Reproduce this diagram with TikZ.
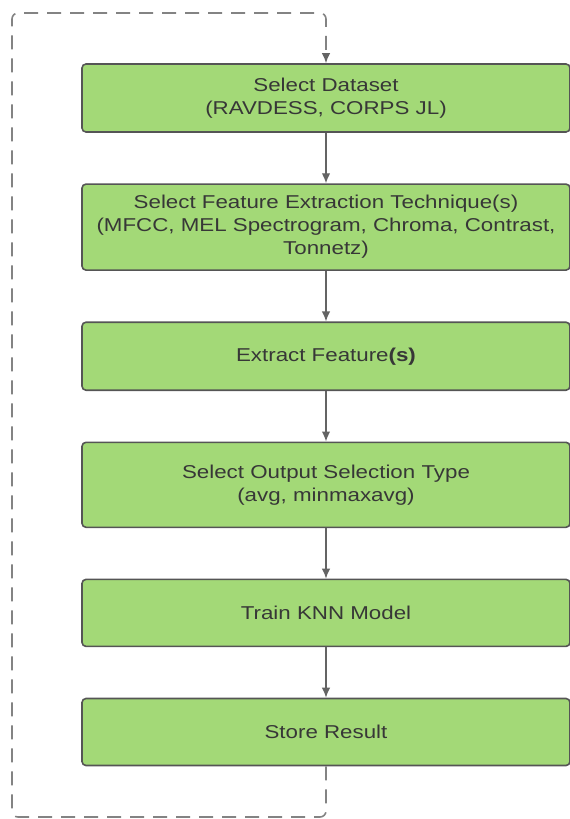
\documentclass[tikz,border=0pt]{standalone}
\usepackage{fontspec}
\setmainfont{Liberation Sans}[FakeStretch=1.2]
\usetikzlibrary{positioning}
\usetikzlibrary{arrows, arrows.meta}
\definecolor{stepgreen}{RGB}{163,217,119}
\definecolor{stepborder}{RGB}{85,85,85}
\definecolor{steptext}{RGB}{55,55,55}
\definecolor{flowgray}{RGB}{100,100,100}
\tikzset{stepbox/.style={draw=stepborder, line width=1.6pt, fill=stepgreen, rounded corners=4pt,
    minimum width=488pt, minimum height=68pt, align=center, text=steptext, inner sep=3pt,
    font=\fontsize{18.6}{23}\selectfont}}
\tikzset{flow/.style={flowgray, line width=1.3pt, -{Latex[length=10pt, width=8.5pt]}}}
\tikzset{loopline/.style={flowgray!80, line width=1.6pt, dash pattern=on 14pt off 9pt,
    rounded corners=6pt, -{Latex[length=10pt, width=8.5pt, fill=flowgray, flowgray]}}}

\begin{document}
\begin{tikzpicture}[x=1pt, y=-1pt]
            \useasboundingbox (0,0) rectangle (570,819);
            \node[stepbox] (dataset) at (326,98) {Select Dataset\\(RAVDESS, CORPS JL)};
            \node[stepbox, minimum height=86pt, below=50.5pt of dataset] (technique) {Select Feature Extraction Technique(s)\\(MFCC, MEL Spectrogram, Chroma, Contrast,\\Tonnetz)};
            \node[stepbox, below=50.5pt of technique] (extract) {Extract Feature\textbf{(s)}};
            \node[stepbox, minimum height=85pt, below=50.5pt of extract] (output) {Select Output Selection Type\\(avg, minmaxavg)};
            \node[stepbox, minimum height=67pt, below=50.5pt of output] (train) {Train KNN Model};
            \node[stepbox, minimum height=67pt, below=50.5pt of train] (store) {Store Result};
            \draw[flow] (dataset) -- (technique);
            \draw[flow] (technique) -- (extract);
            \draw[flow] (extract) -- (output);
            \draw[flow] (output) -- (train);
            \draw[flow] (train) -- (store);
            % loop back to the start
            \coordinate (loopbl) at (12,817);
            \coordinate (looptl) at (12,13);
            \draw[loopline] (store.south) |- (loopbl) -- (looptl) -| (dataset.north);
        \end{tikzpicture}
\end{document}
